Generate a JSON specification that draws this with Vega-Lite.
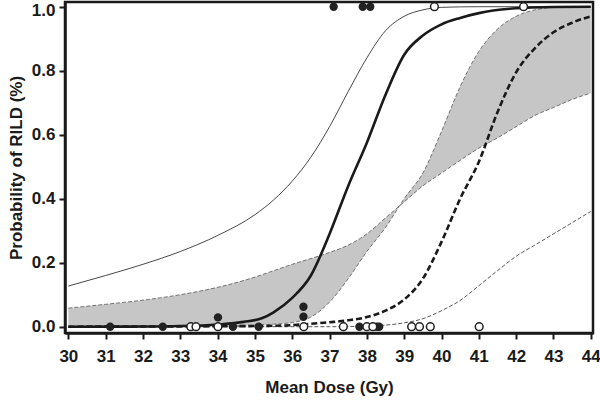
{
  "$schema": "https://vega.github.io/schema/vega-lite/v6.json",
  "width": 528,
  "height": 331,
  "autosize": {"type": "none"},
  "padding": {"left": 65, "top": 2, "right": 7, "bottom": 68},
  "background": "white",
  "config": {
    "view": {"stroke": "#1a1a1a", "strokeWidth": 2.5},
    "font": "Liberation Sans, Arial, sans-serif",
    "axis": {
      "grid": false,
      "domainColor": "#1a1a1a",
      "domainWidth": 2.5,
      "tickColor": "#1a1a1a",
      "tickWidth": 2,
      "tickSize": 6,
      "labelFont": "Liberation Sans, Arial, sans-serif",
      "labelFontSize": 17,
      "labelFontWeight": "bold",
      "labelColor": "#1a1a1a",
      "titleFont": "Liberation Sans, Arial, sans-serif",
      "titleFontSize": 17,
      "titleFontWeight": "bold",
      "titleColor": "#1a1a1a"
    }
  },
  "datasets": {
    "band": [
      {"dose": 30, "a": 0.058, "b": 0.0},
      {"dose": 31, "a": 0.07, "b": 0.0},
      {"dose": 32, "a": 0.083, "b": 0.0},
      {"dose": 33, "a": 0.1, "b": 0.001},
      {"dose": 34, "a": 0.123, "b": 0.002},
      {"dose": 35, "a": 0.155, "b": 0.005},
      {"dose": 35.5, "a": 0.175, "b": 0.008},
      {"dose": 36, "a": 0.195, "b": 0.013},
      {"dose": 36.5, "a": 0.213, "b": 0.03},
      {"dose": 37, "a": 0.232, "b": 0.077},
      {"dose": 37.5, "a": 0.255, "b": 0.15},
      {"dose": 38, "a": 0.29, "b": 0.235},
      {"dose": 38.5, "a": 0.34, "b": 0.31},
      {"dose": 39, "a": 0.39, "b": 0.4},
      {"dose": 39.5, "a": 0.44, "b": 0.48},
      {"dose": 40, "a": 0.48, "b": 0.61},
      {"dose": 40.5, "a": 0.52, "b": 0.75},
      {"dose": 41, "a": 0.558, "b": 0.86},
      {"dose": 41.5, "a": 0.59, "b": 0.93},
      {"dose": 42, "a": 0.625, "b": 0.97},
      {"dose": 42.5, "a": 0.66, "b": 0.99},
      {"dose": 43, "a": 0.685, "b": 0.998},
      {"dose": 43.5, "a": 0.71, "b": 1.0},
      {"dose": 44, "a": 0.73, "b": 1.0}
    ],
    "curves": [
      {"curve": "thinSolid", "dose": 30, "p": 0.127},
      {"curve": "thinSolid", "dose": 31, "p": 0.16},
      {"curve": "thinSolid", "dose": 32, "p": 0.195},
      {"curve": "thinSolid", "dose": 33, "p": 0.235},
      {"curve": "thinSolid", "dose": 34, "p": 0.285},
      {"curve": "thinSolid", "dose": 35, "p": 0.35},
      {"curve": "thinSolid", "dose": 35.5, "p": 0.396},
      {"curve": "thinSolid", "dose": 36, "p": 0.455},
      {"curve": "thinSolid", "dose": 36.5, "p": 0.53},
      {"curve": "thinSolid", "dose": 37, "p": 0.625},
      {"curve": "thinSolid", "dose": 37.5, "p": 0.735},
      {"curve": "thinSolid", "dose": 38, "p": 0.84},
      {"curve": "thinSolid", "dose": 38.5, "p": 0.925},
      {"curve": "thinSolid", "dose": 39, "p": 0.97},
      {"curve": "thinSolid", "dose": 39.5, "p": 0.99},
      {"curve": "thinSolid", "dose": 40, "p": 0.998},
      {"curve": "thinSolid", "dose": 41, "p": 1.0},
      {"curve": "thinSolid", "dose": 44, "p": 1.0},
      {"curve": "thickSolid", "dose": 30, "p": 0.0},
      {"curve": "thickSolid", "dose": 32, "p": 0.0005},
      {"curve": "thickSolid", "dose": 33, "p": 0.002},
      {"curve": "thickSolid", "dose": 34, "p": 0.007},
      {"curve": "thickSolid", "dose": 34.7, "p": 0.015},
      {"curve": "thickSolid", "dose": 35.2, "p": 0.027},
      {"curve": "thickSolid", "dose": 35.5, "p": 0.045},
      {"curve": "thickSolid", "dose": 36, "p": 0.09},
      {"curve": "thickSolid", "dose": 36.5, "p": 0.16},
      {"curve": "thickSolid", "dose": 37, "p": 0.29},
      {"curve": "thickSolid", "dose": 37.5, "p": 0.44},
      {"curve": "thickSolid", "dose": 38, "p": 0.575},
      {"curve": "thickSolid", "dose": 38.5, "p": 0.725},
      {"curve": "thickSolid", "dose": 39, "p": 0.85},
      {"curve": "thickSolid", "dose": 39.5, "p": 0.91},
      {"curve": "thickSolid", "dose": 40, "p": 0.945},
      {"curve": "thickSolid", "dose": 40.5, "p": 0.965},
      {"curve": "thickSolid", "dose": 41, "p": 0.98},
      {"curve": "thickSolid", "dose": 42, "p": 0.995},
      {"curve": "thickSolid", "dose": 43, "p": 0.999},
      {"curve": "thickSolid", "dose": 44, "p": 1.0},
      {"curve": "thickDash", "dose": 30, "p": 0.0},
      {"curve": "thickDash", "dose": 35, "p": 0.002},
      {"curve": "thickDash", "dose": 36, "p": 0.005},
      {"curve": "thickDash", "dose": 36.5, "p": 0.009},
      {"curve": "thickDash", "dose": 37, "p": 0.014},
      {"curve": "thickDash", "dose": 37.5, "p": 0.02},
      {"curve": "thickDash", "dose": 38, "p": 0.03},
      {"curve": "thickDash", "dose": 38.5, "p": 0.05},
      {"curve": "thickDash", "dose": 39, "p": 0.085},
      {"curve": "thickDash", "dose": 39.5, "p": 0.15},
      {"curve": "thickDash", "dose": 40, "p": 0.265},
      {"curve": "thickDash", "dose": 40.5, "p": 0.4},
      {"curve": "thickDash", "dose": 41, "p": 0.515},
      {"curve": "thickDash", "dose": 41.5, "p": 0.67},
      {"curve": "thickDash", "dose": 42, "p": 0.795},
      {"curve": "thickDash", "dose": 42.5, "p": 0.87},
      {"curve": "thickDash", "dose": 43, "p": 0.92},
      {"curve": "thickDash", "dose": 43.5, "p": 0.95},
      {"curve": "thickDash", "dose": 44, "p": 0.97},
      {"curve": "thinDash", "dose": 30, "p": 0.0},
      {"curve": "thinDash", "dose": 37, "p": 0.0},
      {"curve": "thinDash", "dose": 38, "p": 0.002},
      {"curve": "thinDash", "dose": 38.5, "p": 0.005},
      {"curve": "thinDash", "dose": 39, "p": 0.012},
      {"curve": "thinDash", "dose": 39.5, "p": 0.025},
      {"curve": "thinDash", "dose": 40, "p": 0.05},
      {"curve": "thinDash", "dose": 40.5, "p": 0.082},
      {"curve": "thinDash", "dose": 41, "p": 0.128},
      {"curve": "thinDash", "dose": 41.5, "p": 0.175},
      {"curve": "thinDash", "dose": 42, "p": 0.22},
      {"curve": "thinDash", "dose": 42.5, "p": 0.255},
      {"curve": "thinDash", "dose": 43, "p": 0.29},
      {"curve": "thinDash", "dose": 43.5, "p": 0.325},
      {"curve": "thinDash", "dose": 44, "p": 0.36}
    ],
    "points": [
      {"dose": 31.12, "p": 0, "filled": "yes"},
      {"dose": 32.53, "p": 0, "filled": "yes"},
      {"dose": 34.41, "p": 0, "filled": "yes"},
      {"dose": 35.1, "p": 0, "filled": "yes"},
      {"dose": 37.8, "p": 0, "filled": "yes"},
      {"dose": 38.27, "p": 0, "filled": "yes"},
      {"dose": 38.33, "p": 0, "filled": "yes"},
      {"dose": 34.01, "p": 0.029, "filled": "yes"},
      {"dose": 36.3, "p": 0.031, "filled": "yes"},
      {"dose": 36.3, "p": 0.0625, "filled": "yes"},
      {"dose": 37.11, "p": 1, "filled": "yes"},
      {"dose": 37.89, "p": 1, "filled": "yes"},
      {"dose": 38.09, "p": 1, "filled": "yes"},
      {"dose": 33.28, "p": 0, "filled": "no"},
      {"dose": 33.42, "p": 0, "filled": "no"},
      {"dose": 34.01, "p": 0, "filled": "no"},
      {"dose": 36.31, "p": 0, "filled": "no"},
      {"dose": 37.37, "p": 0, "filled": "no"},
      {"dose": 38.0, "p": 0, "filled": "no"},
      {"dose": 38.16, "p": 0, "filled": "no"},
      {"dose": 39.2, "p": 0, "filled": "no"},
      {"dose": 39.41, "p": 0, "filled": "no"},
      {"dose": 39.7, "p": 0, "filled": "no"},
      {"dose": 41.01, "p": 0, "filled": "no"},
      {"dose": 39.81, "p": 1, "filled": "no"},
      {"dose": 42.2, "p": 1, "filled": "no"}
    ]
  },
  "encoding": {
    "x": {
      "field": "dose", "type": "quantitative",
      "scale": {"domain": [29.91, 44.06], "nice": false, "zero": false},
      "axis": {"values": [30,31,32,33,34,35,36,37,38,39,40,41,42,43,44], "title": "Mean Dose (Gy)", "titlePadding": 15, "labelPadding": 9}
    }
  },
  "layer": [
    {
      "data": {"name": "band"},
      "mark": {"type": "area", "color": "#c6c6c6", "interpolate": "monotone", "opacity": 1},
      "encoding": {
        "y": {"field": "a", "type": "quantitative",
          "scale": {"domain": [-0.0197, 1.0147], "nice": false, "zero": false},
          "axis": {"values": [0, 0.2, 0.4, 0.6, 0.8, 1.0], "format": ".1f", "title": "Probability of RILD (%)", "titlePadding": 6, "labelPadding": 4, "labelFlush": 5.5, "labelFlushOffset": 4}},
        "y2": {"field": "b"}
      }
    },
    {
      "data": {"name": "band"},
      "mark": {"type": "line", "color": "#555555", "strokeWidth": 0.8, "strokeDash": [4, 2], "interpolate": "monotone"},
      "encoding": {"y": {"field": "a", "type": "quantitative"}}
    },
    {
      "data": {"name": "band"},
      "mark": {"type": "line", "color": "#555555", "strokeWidth": 0.8, "strokeDash": [4, 2], "interpolate": "monotone"},
      "encoding": {"y": {"field": "b", "type": "quantitative"}}
    },
    {
      "data": {"name": "curves"},
      "transform": [{"filter": "datum.curve === 'thinSolid'"}],
      "mark": {"type": "line", "color": "#333333", "strokeWidth": 0.9, "interpolate": "monotone"},
      "encoding": {"y": {"field": "p", "type": "quantitative"}}
    },
    {
      "data": {"name": "curves"},
      "transform": [{"filter": "datum.curve === 'thinDash'"}],
      "mark": {"type": "line", "color": "#444444", "strokeWidth": 0.9, "strokeDash": [4, 2], "interpolate": "monotone"},
      "encoding": {"y": {"field": "p", "type": "quantitative"}}
    },
    {
      "data": {"name": "curves"},
      "transform": [{"filter": "datum.curve === 'thickDash'"}],
      "mark": {"type": "line", "color": "#1a1a1a", "strokeWidth": 2.6, "strokeDash": [6, 3], "interpolate": "monotone"},
      "encoding": {"y": {"field": "p", "type": "quantitative"}}
    },
    {
      "data": {"name": "curves"},
      "transform": [{"filter": "datum.curve === 'thickSolid'"}],
      "mark": {"type": "line", "color": "#1a1a1a", "strokeWidth": 2.6, "interpolate": "monotone"},
      "encoding": {"y": {"field": "p", "type": "quantitative"}}
    },
    {
      "data": {"name": "points"},
      "transform": [{"filter": "datum.filled === 'yes'"}],
      "mark": {"type": "circle", "color": "#222222", "size": 70, "opacity": 1},
      "encoding": {"y": {"field": "p", "type": "quantitative"}}
    },
    {
      "data": {"name": "points"},
      "transform": [{"filter": "datum.filled === 'no'"}],
      "mark": {"type": "point", "shape": "circle", "fill": "white", "filled": false, "stroke": "#222222", "strokeWidth": 1.5, "size": 60, "opacity": 1, "fillOpacity": 1},
      "encoding": {"y": {"field": "p", "type": "quantitative"}}
    }
  ]
}
